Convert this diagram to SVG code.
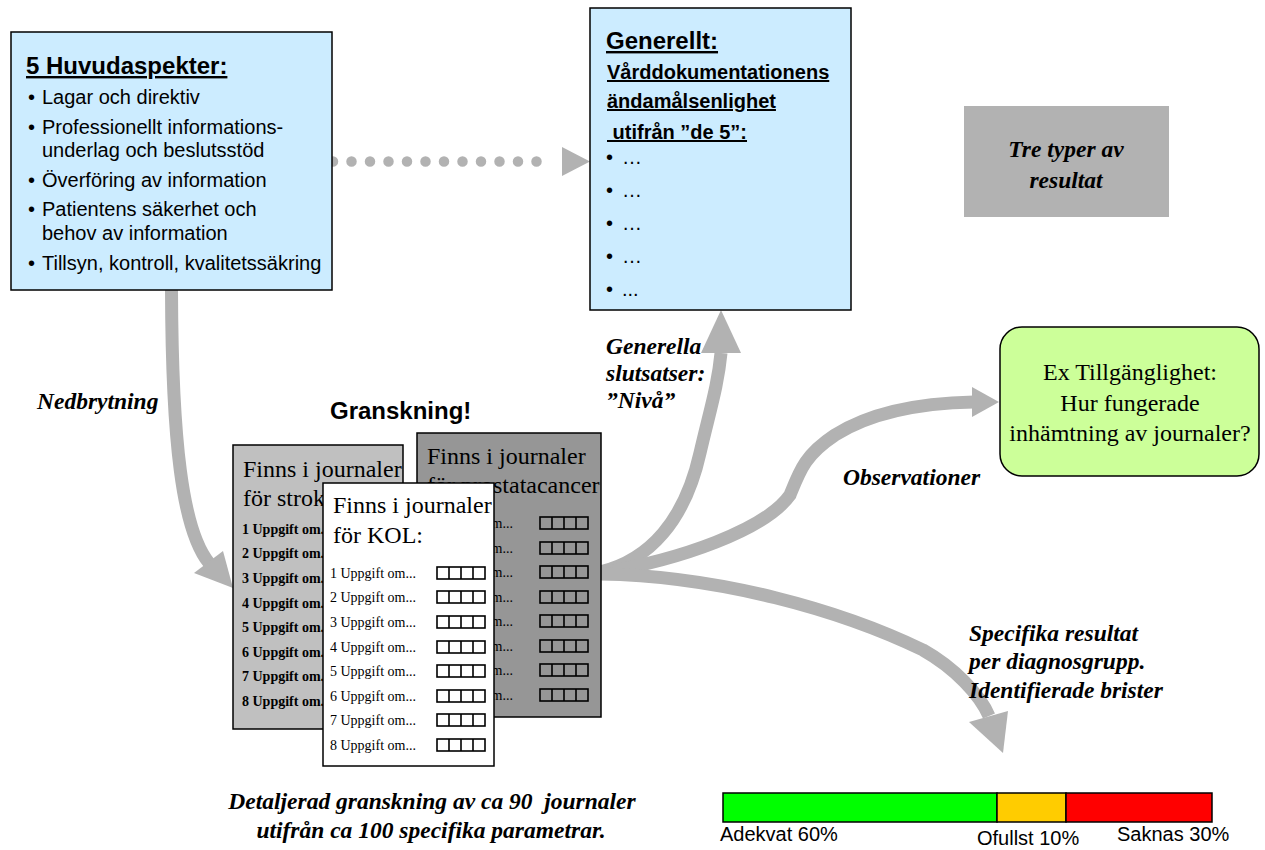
<svg xmlns="http://www.w3.org/2000/svg" width="1265" height="850" viewBox="0 0 1265 850">
<defs>
<style>
.box{fill:#CCECFF;stroke:#000;stroke-width:1.5}
.sans{font-family:"Liberation Sans",Arial,sans-serif;fill:#000}
.serif{font-family:"Liberation Serif","Times New Roman",serif;fill:#000}
.bi{font-family:"Liberation Serif","Times New Roman",serif;font-weight:bold;font-style:italic;font-size:23.5px;fill:#000}
.ul{text-decoration:underline}
.conn{fill:none;stroke:#B2B2B2;stroke-width:13}
.head{fill:#B2B2B2}
.page{stroke:#000;stroke-width:1.5}
.item{font-size:14px}
.cb{fill:none;stroke:#000;stroke-width:1.6}
</style>
<g id="chk">
<rect class="cb" x="0" y="0" width="48" height="12"/>
<path class="cb" d="M12,0V12M24,0V12M36,0V12"/>
</g>
</defs>
<rect width="1265" height="850" fill="#fff"/>

<g id="connectors">
<line x1="333" y1="161.5" x2="555" y2="161.5" stroke="#B2B2B2" stroke-width="10.5" stroke-linecap="round" stroke-dasharray="0 18.5"/>
<polygon class="head" points="562,147 590,161.5 562,176"/>
<path class="conn" d="M171.5,290 C172,440 182,530 209,563"/>
<polygon class="head" points="233,588 194,573 223,551"/>
<path class="conn" d="M600,572 C650,560 685,520 700,453 C710,410 718,385 721,353"/>
<polygon class="head" points="721,310 701,353 741,353"/>
<path class="conn" d="M600,573 C680,560 765,530 790,495 C800,470 805,455 835,435 C870,413 920,403 974,402"/>
<polygon class="head" points="999,402 972,387 972,417"/>
<path class="conn" d="M600,574 C720,576 840,610 923,650 C955,668 980,695 989,716"/>
<polygon class="head" points="1003,753 969,722 1008,711"/>
</g>

<g id="huvudaspekter">
<rect class="box" x="11" y="32" width="321" height="258"/>
<text class="sans ul" x="26" y="74" font-size="24" font-weight="bold">5 Huvudaspekter:</text>
<g class="sans" font-size="20">
<text x="28" y="104">•</text><text x="42" y="104">Lagar och direktiv</text>
<text x="28" y="134">•</text><text x="42" y="134">Professionellt informations-</text>
<text x="42" y="157">underlag och beslutsstöd</text>
<text x="28" y="187">•</text><text x="42" y="187">Överföring av information</text>
<text x="28" y="216">•</text><text x="42" y="216">Patientens säkerhet och</text>
<text x="42" y="240">behov av information</text>
<text x="28" y="270">•</text><text x="42" y="270">Tillsyn, kontroll, kvalitetssäkring</text>
</g>
</g>

<g id="generellt">
<rect class="box" x="590" y="8" width="261" height="302"/>
<text class="sans ul" x="606" y="49" font-size="24" font-weight="bold">Generellt:</text>
<g class="sans ul" font-size="20" font-weight="bold">
<text x="607" y="79">Vårddokumentationens</text>
<text x="607" y="108">ändamålsenlighet</text>
<text x="607" y="139" xml:space="preserve"> utifrån ”de 5”:</text>
</g>
<g class="sans" font-size="20">
<text x="606" y="164">•</text><text x="622" y="164">…</text>
<text x="606" y="197">•</text><text x="622" y="197">…</text>
<text x="606" y="230">•</text><text x="622" y="230">…</text>
<text x="606" y="263">•</text><text x="622" y="263">…</text>
<text x="606" y="296">•</text><text x="622" y="296">...</text>
</g>
</g>

<g id="tre-typer">
<rect x="964" y="106" width="205" height="111" fill="#B2B2B2"/>
<text class="bi" x="1066" y="157" text-anchor="middle">Tre typer av</text>
<text class="bi" x="1066" y="188" text-anchor="middle">resultat</text>
</g>

<g id="tillganglighet">
<rect x="1000" y="327" width="259" height="149" rx="22" fill="#CCFF99" stroke="#000" stroke-width="1.5"/>
<g class="serif" font-size="24" text-anchor="middle">
<text x="1130" y="380">Ex Tillgänglighet:</text>
<text x="1130" y="411">Hur fungerade</text>
<text x="1130" y="441">inhämtning av journaler?</text>
</g>
</g>

<g id="labels">
<text class="bi" x="37" y="409">Nedbrytning</text>
<text class="sans" x="330" y="419" font-size="24" font-weight="bold">Granskning!</text>
<text class="bi" x="606" y="354">Generella</text>
<text class="bi" x="606" y="381">slutsatser:</text>
<text class="bi" x="606" y="408">”Nivå”</text>
<text class="bi" x="843" y="485">Observationer</text>
<text class="bi" x="969" y="641">Specifika resultat</text>
<text class="bi" x="969" y="669">per diagnosgrupp.</text>
<text class="bi" x="969" y="698">Identifierade brister</text>
<text class="bi" x="432" y="809" text-anchor="middle" font-size="23" xml:space="preserve">Detaljerad granskning av ca 90  journaler</text>
<text class="bi" x="431" y="838" text-anchor="middle" font-size="23">utifrån ca 100 specifika parametrar.</text>
</g>

<g id="page-prostata">
<rect class="page" x="417" y="433" width="184" height="284" fill="#969696"/>
<g class="serif">
<text x="427" y="464" font-size="24">Finns i journaler</text>
<text x="427" y="493" font-size="24">för prostatacancer</text>
<g class="item">
<text x="427" y="528">1 Uppgift om...</text>
<text x="427" y="553">2 Uppgift om...</text>
<text x="427" y="577">3 Uppgift om...</text>
<text x="427" y="602">4 Uppgift om...</text>
<text x="427" y="626">5 Uppgift om...</text>
<text x="427" y="651">6 Uppgift om...</text>
<text x="427" y="675">7 Uppgift om...</text>
<text x="427" y="700">8 Uppgift om...</text>
</g>
</g>
<use href="#chk" x="540" y="517"/>
<use href="#chk" x="540" y="542"/>
<use href="#chk" x="540" y="566"/>
<use href="#chk" x="540" y="591"/>
<use href="#chk" x="540" y="615"/>
<use href="#chk" x="540" y="640"/>
<use href="#chk" x="540" y="664"/>
<use href="#chk" x="540" y="689"/>
</g>

<g id="page-stroke">
<rect class="page" x="233" y="445" width="170" height="284" fill="#C0C0C0"/>
<g class="serif">
<text x="243" y="477" font-size="24">Finns i journaler</text>
<text x="243" y="506" font-size="24">för stroke:</text>
<g class="item" font-weight="bold">
<text x="242" y="534">1 Uppgift om...</text>
<text x="242" y="558">2 Uppgift om...</text>
<text x="242" y="583">3 Uppgift om...</text>
<text x="242" y="608">4 Uppgift om...</text>
<text x="242" y="632">5 Uppgift om...</text>
<text x="242" y="657">6 Uppgift om...</text>
<text x="242" y="681">7 Uppgift om...</text>
<text x="242" y="706">8 Uppgift om...</text>
</g>
</g>
</g>

<g id="page-kol">
<rect class="page" x="323" y="483" width="171" height="283" fill="#FFFFFF"/>
<g class="serif">
<text x="333" y="513" font-size="24">Finns i journaler</text>
<text x="333" y="543" font-size="24">för KOL:</text>
<g class="item">
<text x="330" y="578">1 Uppgift om...</text>
<text x="330" y="602">2 Uppgift om...</text>
<text x="330" y="627">3 Uppgift om...</text>
<text x="330" y="652">4 Uppgift om...</text>
<text x="330" y="676">5 Uppgift om...</text>
<text x="330" y="701">6 Uppgift om...</text>
<text x="330" y="725">7 Uppgift om...</text>
<text x="330" y="750">8 Uppgift om...</text>
</g>
</g>
<use href="#chk" x="437" y="567"/>
<use href="#chk" x="437" y="591"/>
<use href="#chk" x="437" y="616"/>
<use href="#chk" x="437" y="641"/>
<use href="#chk" x="437" y="665"/>
<use href="#chk" x="437" y="690"/>
<use href="#chk" x="437" y="714"/>
<use href="#chk" x="437" y="739"/>
</g>

<g id="resultat-bar">
<rect x="723" y="793" width="274" height="29" fill="#00FF00" stroke="#000" stroke-width="1.5"/>
<rect x="997" y="793" width="69" height="29" fill="#FFCC00" stroke="#000" stroke-width="1.5"/>
<rect x="1066" y="793" width="146" height="29" fill="#FF0000" stroke="#000" stroke-width="1.5"/>
<g class="sans" font-size="20">
<text x="720" y="841">Adekvat 60%</text>
<text x="977" y="845">Ofullst 10%</text>
<text x="1117" y="841">Saknas 30%</text>
</g>
</g>
</svg>
